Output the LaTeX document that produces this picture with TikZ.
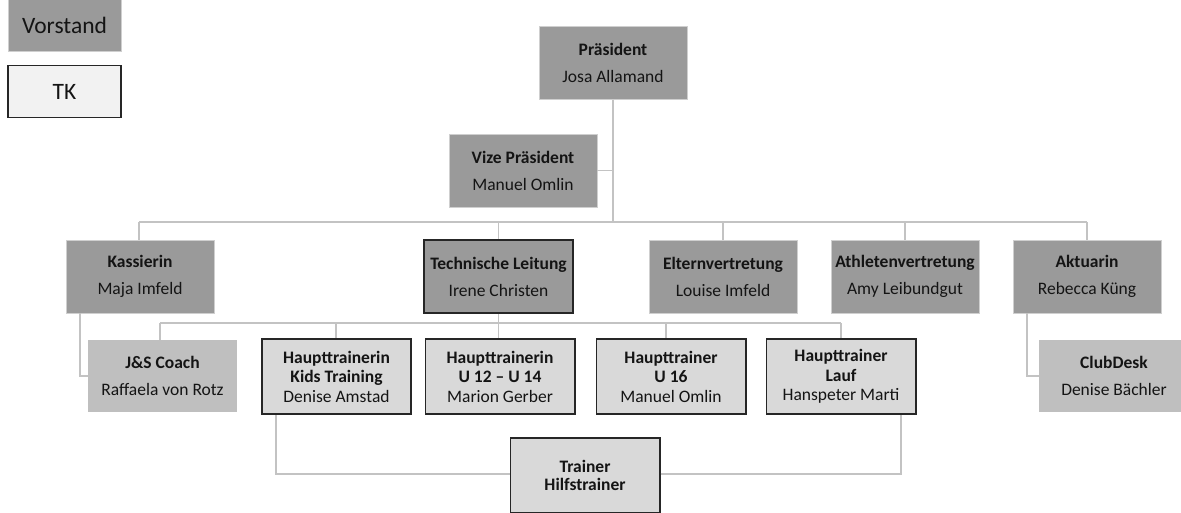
\documentclass[tikz,border=0pt]{standalone}
\usepackage{fontspec}
\setmainfont{Carlito}
\definecolor{vgray}{HTML}{9A9A9A}
\definecolor{vedge}{HTML}{CFCFCF}
\definecolor{lgray}{HTML}{BFBFBF}
\definecolor{tgray}{HTML}{D9D9D9}
\definecolor{tkgray}{HTML}{F2F2F2}
\definecolor{dark}{HTML}{262626}
\definecolor{cgray}{HTML}{C3C3C3}
\definecolor{txt}{HTML}{141414}
\begin{document}
\begin{tikzpicture}[x=1pt,y=-1pt,
  box/.style={rectangle, inner sep=0pt, align=center, text=txt, font=\fontsize{17.5}{27}\selectfont},
  vbox/.style={box, fill=vgray, draw=vedge, line width=0.8pt, minimum width=148pt, minimum height=73pt},
  tlbox/.style={box, fill=vgray, draw=dark, line width=1.6pt, minimum width=149.4pt, minimum height=73.4pt},
  lbox/.style={box, fill=lgray, draw=none, minimum width=149pt, minimum height=72pt},
  tbox/.style={box, fill=tgray, draw=dark, line width=1.6pt, minimum width=149.4pt, minimum height=75.4pt, font=\fontsize{17.5}{19.5}\selectfont},
  legend/.style={box, minimum width=113pt, font=\fontsize{23.5}{27}\selectfont},
  conn/.style={draw=cgray, line width=1.3pt},
]
\clip (0,0) rectangle (1181,512);
\fill[white] (0,0) rectangle (1181,512);

% legend
\node[legend, fill=vgray, draw=vedge, line width=0.8pt, minimum height=52pt] (lv) at (64.5,25) {Vorstand};
\node[legend, fill=tkgray, draw=dark, line width=1.4pt, minimum height=52pt] (ltk) at (64.5,91.5) {TK};

% boxes
\node[vbox] (pres) at (613,63) {\textbf{Präsident}\\Josa Allamand};
\node[vbox] (vize) at (523,170.5) {\textbf{Vize Präsident}\\Manuel Omlin};

\node[vbox] (kass) at (140,276.5) {\textbf{Kassierin}\\Maja Imfeld};
\node[tlbox] (tl) at (498.5,276.5) {\textbf{Technische Leitung}\\Irene Christen};
\node[vbox] (elt) at (723,276.5) {\textbf{Elternvertretung}\\Louise Imfeld};
\node[vbox] (ath) at (905,276.5) {\textbf{Athletenvertretung}\\Amy Leibundgut};
\node[vbox] (akt) at (1087,276.5) {\textbf{Aktuarin}\\Rebecca Küng};

\node[lbox] (js) at (162.5,376) {\textbf{J\&S Coach}\\Raffaela von Rotz};
\node[tbox] (kids) at (336.5,376.5) {\textbf{Haupttrainerin}\\\textbf{Kids Training}\\Denise Amstad};
\node[tbox] (u12) at (500,376.5) {\textbf{Haupttrainerin}\\\textbf{U 12 – U 14}\\Marion Gerber};
\node[tbox] (u16) at (671,376.5) {\textbf{Haupttrainer}\\\textbf{U 16}\\Manuel Omlin};
\node[tbox] (lauf) at (841,376.5) {\textbf{Haupttrainer}\\\textbf{Lauf}\\Hanspeter Marti};
\node[lbox, minimum width=150pt] (club) at (1114,376) {\textbf{ClubDesk}\\Denise Bächler};

\node[tbox, font=\fontsize{17.5}{18.5}\selectfont] (trainer) at (585,475.5) {\textbf{Trainer}\\\textbf{Hilfstrainer}};

% connector coordinates
\coordinate (b1L) at (139,222);
\coordinate (b1R) at (1087,222);
\coordinate (b2L) at (160,323);
\coordinate (b2R) at (841,323);
\coordinate (k2) at (336,323);
\coordinate (u16c) at (666,323);
\coordinate (kjx) at (80,376);
\coordinate (acx) at (1027,376);
\coordinate (tL) at (276,474);
\coordinate (tR) at (901,474);

\draw[conn] (pres.south) -- (pres.south |- b1L);
\draw[conn] (vize.east) -- (vize.east -| pres.south);
\draw[conn] (b1L) -- (b1R);
\draw[conn] (b1L) -- (b1L |- kass.north);
\draw[conn] (tl.north |- b1L) -- (tl.north);
\draw[conn] (elt.north |- b1L) -- (elt.north);
\draw[conn] (ath.north |- b1L) -- (ath.north);
\draw[conn] (b1R) -- (akt.north);

\draw[conn] (tl.south) -- (tl.south |- u12.north);
\draw[conn] (b2L) -- (b2R);
\draw[conn] (b2L) -- (b2L |- js.north);
\draw[conn] (k2) -- (k2 |- kids.north);
\draw[conn] (u16c) -- (u16c |- u16.north);
\draw[conn] (b2R) -- (lauf.north);

\draw[conn] (kjx |- kass.south) -- (kjx) -- (js.west);
\draw[conn] (acx |- akt.south) -- (acx) -- (club.west);

\draw[conn] (tL |- kids.south) -- (tL) -- (tL -| trainer.west);
\draw[conn] (trainer.east |- tR) -- (tR) -- (tR |- lauf.south);
\end{tikzpicture}
\end{document}
